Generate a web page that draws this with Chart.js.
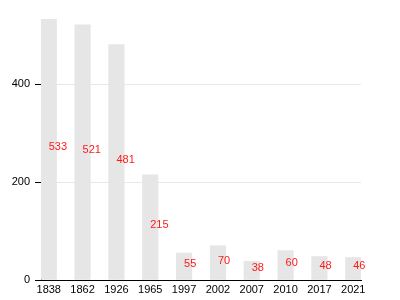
<!DOCTYPE html>
<html>
<head>
<meta charset="utf-8">
<script src="https://cdn.jsdelivr.net/npm/chart.js@4"></script>
<style>
  html, body { margin: 0; padding: 0; background: #fff; }
  #myChart { display: block; }
</style>
</head>
<body>
<canvas id="myChart" width="400" height="300"></canvas>
<script>
// dados
const years = ['1838', '1862', '1926', '1965', '1997', '2002', '2007', '2010', '2017', '2021'];
const population = [533, 521, 481, 215, 55, 70, 38, 60, 48, 46];
const yTicks = [0, 200, 400];

// rótulos vermelhos no meio da barra
const valueLabels = {
  id: 'valueLabels',
  afterDatasetsDraw(chart) {
    const ctx = chart.ctx;
    const meta = chart.getDatasetMeta(0);
    ctx.save();
    ctx.font = '11px "Liberation Sans", Arial, sans-serif';
    ctx.fillStyle = '#ff1a1a';
    ctx.textAlign = 'left';
    ctx.textBaseline = 'alphabetic';
    meta.data.forEach((bar, i) => {
      const mid = (bar.y + bar.base) / 2;
      ctx.fillText(String(population[i]), bar.x, mid + 1);
    });
    ctx.restore();
  }
};

const ctx = document.getElementById('myChart').getContext('2d');
new Chart(ctx, {
  type: 'bar',
  data: {
    datasets: [{
      data: population.map((v, i) => ({ x: i, y: v })),
      backgroundColor: '#e6e6e6',
      borderWidth: 0,
      barThickness: 15.5
    }]
  },
  options: {
    responsive: false,
    animation: false,
    layout: { padding: { top: 19, right: 39, left: 0, bottom: 0 } },
    plugins: {
      legend: { display: false },
      tooltip: { enabled: false }
    },
    scales: {
      x: {
        type: 'linear',
        offset: false,
        min: -0.229,
        max: 9.229,
        afterBuildTicks: (scale) => {
          scale.ticks = years.map((_, i) => ({ value: i }));
        },
        afterFit: (scale) => { scale.height = 20; },
        grid: { display: false, drawTicks: false, offset: false },
        border: { display: true, color: '#000', width: 1 },
        ticks: {
          autoSkip: false,
          maxRotation: 0,
          padding: 3,
          color: '#000',
          font: { family: '"Liberation Sans", Arial, sans-serif', size: 11 },
          callback: (value) => years[value]
        }
      },
      y: {
        min: 0,
        max: 533,
        afterBuildTicks: (scale) => {
          scale.ticks = yTicks.map(v => ({ value: v }));
        },
        afterFit: (scale) => { scale.width = 41; },
        grid: {
          color: (c) => c.tick && c.tick.value === 0 ? 'rgba(0,0,0,0)' : '#e8e8e8',
          tickColor: '#000',
          tickLength: 6
        },
        border: { display: true, color: '#000', width: 1 },
        ticks: {
          padding: 5,
          color: '#000',
          font: { family: '"Liberation Sans", Arial, sans-serif', size: 11 }
        }
      }
    }
  },
  plugins: [valueLabels]
});
</script>
</body>
</html>
